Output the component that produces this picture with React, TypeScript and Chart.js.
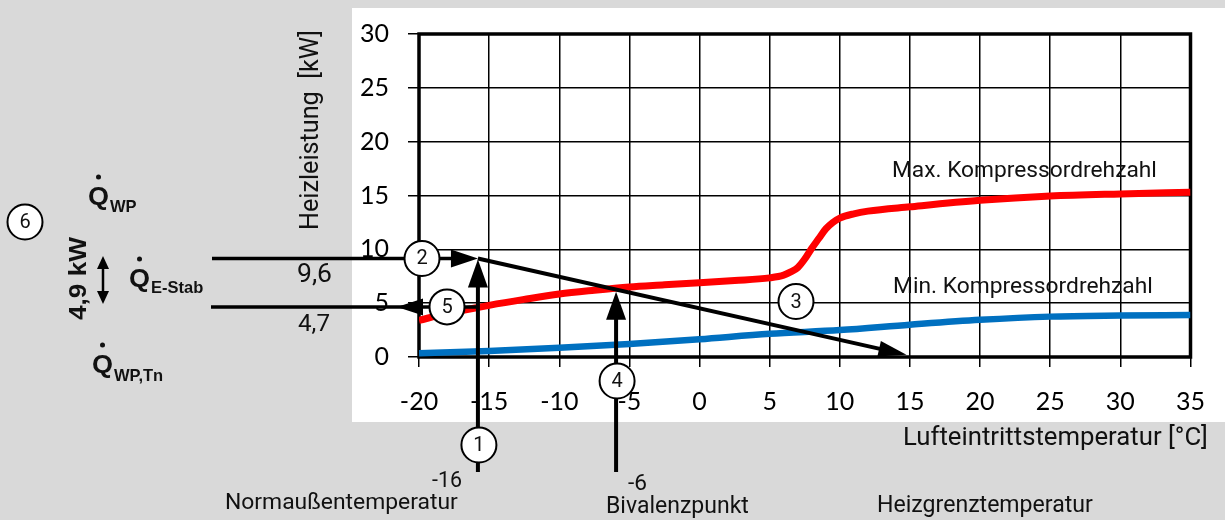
import React, { useEffect, useRef } from "react";
import { Chart, registerables } from "chart.js";

Chart.register(...registerables);

// ---- data ----
const maxTemps = [-20, -18, -16, -15, -12.5, -10, -7.5, -5, -2.5, 0, 2.5, 5, 6, 6.5, 7, 7.5, 8, 8.5, 9, 9.5, 10, 11, 12, 15, 20, 25, 30, 35];
const maxPower = [3.4, 4.05, 4.55, 4.8, 5.35, 5.85, 6.2, 6.5, 6.7, 6.9, 7.1, 7.35, 7.6, 7.9, 8.3, 9.1, 10.1, 11.0, 11.9, 12.5, 12.9, 13.3, 13.55, 13.95, 14.55, 14.95, 15.15, 15.3];
const minTemps = [-20, -15, -10, -5, 0, 5, 10, 15, 20, 25, 30, 35];
const minPower = [0.35, 0.55, 0.85, 1.2, 1.65, 2.15, 2.5, 3.0, 3.45, 3.75, 3.85, 3.9];

const xTicks = { min: -20, max: 35, step: 5 };
const yTicks = { min: 0, max: 30, step: 5 };

const xTitle = "Lufteintrittstemperatur [°C]";
const yTitle = "Heizleistung  [kW]";
const seriesLabels = ["Max. Kompressordrehzahl", "Min. Kompressordrehzahl"];

// annotation values (as drawn in the picture)
const normTempDrawn = -15.8;
const bivalentDrawn = -5.95;
const heatLimitDrawn = 14.75;
const levelHighDrawn = 9.15;
const levelLowDrawn = 4.65;
const bivalentPowerDrawn = 6.05;
const levelLabels = ["9,6", "4,7"];
const tempLabels = ["-16", "-6"];
const noteLabels = ["Normaußentemperatur", "Bivalenzpunkt", "Heizgrenztemperatur"];
const qSubs = ["WP", "E-Stab", "WP,Tn"];
const deltaLabel = "4,9 kW";

const ROBOTO = "Roboto, 'DejaVu Sans', sans-serif";
const ARIAL = "'Liberation Sans', Arial, sans-serif";

function fitSize(ctx: CanvasRenderingContext2D, text: string, target: number, family: string, weight: string) {
  ctx.font = `${weight} 20px ${family}`;
  const w = ctx.measureText(text).width;
  return (20 * target) / w;
}

function textAt(ctx: CanvasRenderingContext2D, text: string, left: number, baseline: number, width: number, family = ROBOTO, weight = "400") {
  const size = fitSize(ctx, text, width, family, weight);
  ctx.font = `${weight} ${size}px ${family}`;
  ctx.textAlign = "left";
  ctx.textBaseline = "alphabetic";
  ctx.fillStyle = "#111";
  ctx.fillText(text, left, baseline);
}

function arrow(ctx: CanvasRenderingContext2D, x1: number, y1: number, x2: number, y2: number, lw: number, hl: number, hw: number) {
  const dx = x2 - x1, dy = y2 - y1;
  const len = Math.hypot(dx, dy);
  const ux = dx / len, uy = dy / len;
  const bx = x2 - ux * hl, by = y2 - uy * hl;
  ctx.strokeStyle = "#000";
  ctx.fillStyle = "#000";
  ctx.lineWidth = lw;
  ctx.lineCap = "butt";
  ctx.beginPath();
  ctx.moveTo(x1, y1);
  ctx.lineTo(bx + ux * 2, by + uy * 2);
  ctx.stroke();
  ctx.beginPath();
  ctx.moveTo(x2, y2);
  ctx.lineTo(bx - uy * hw / 2, by + ux * hw / 2);
  ctx.lineTo(bx + uy * hw / 2, by - ux * hw / 2);
  ctx.closePath();
  ctx.fill();
}

function circleNum(ctx: CanvasRenderingContext2D, n: string, x: number, y: number) {
  ctx.beginPath();
  ctx.arc(x, y, 17.5, 0, Math.PI * 2);
  ctx.fillStyle = "#fff";
  ctx.fill();
  ctx.lineWidth = 2;
  ctx.strokeStyle = "#000";
  ctx.stroke();
  ctx.fillStyle = "#111";
  ctx.font = `400 20px ${ROBOTO}`;
  ctx.textAlign = "center";
  ctx.textBaseline = "middle";
  ctx.fillText(n, x, y + 1);
}

function qLabel(ctx: CanvasRenderingContext2D, sub: string, qLeft: number, baseline: number, subBaseline: number) {
  const sx = 1.08;
  ctx.save();
  ctx.fillStyle = "#111";
  ctx.textAlign = "left";
  ctx.textBaseline = "alphabetic";
  ctx.translate(qLeft, baseline);
  ctx.scale(sx, 1);
  ctx.font = `700 25px ${ARIAL}`;
  ctx.fillText("Q", 0, 0);
  const qw = ctx.measureText("Q").width * sx;
  ctx.restore();
  // dot above Q
  ctx.beginPath();
  ctx.arc(qLeft + qw / 2, baseline - 27.5, 2.5, 0, Math.PI * 2);
  ctx.fillStyle = "#111";
  ctx.fill();
  ctx.font = `700 16.5px ${ARIAL}`;
  ctx.textAlign = "left";
  ctx.textBaseline = "alphabetic";
  ctx.fillText(sub, qLeft + qw + 1, subBaseline);
}

const annotPlugin = {
  id: "annot",
  beforeDraw(chart: any) {
    const ctx = chart.ctx as CanvasRenderingContext2D;
    ctx.save();
    ctx.fillStyle = "#d9d9d9";
    ctx.fillRect(0, 0, chart.width, chart.height);
    ctx.fillStyle = "#ffffff";
    ctx.fillRect(352, 8, chart.width - 352, 414);
    ctx.restore();
  },
  beforeDatasetsDraw(chart: any) {
    const ctx = chart.ctx as CanvasRenderingContext2D;
    const a = chart.chartArea;
    ctx.save();
    ctx.strokeStyle = "#000";
    ctx.lineWidth = 3.5;
    ctx.strokeRect(a.left, a.top, a.right - a.left, a.bottom - a.top);
    ctx.restore();
  },
  afterDatasetsDraw(chart: any) {
    const ctx = chart.ctx as CanvasRenderingContext2D;
    const xs = chart.scales.x, ys = chart.scales.y;
    const px = (v: number) => xs.getPixelForValue(v);
    const py = (v: number) => ys.getPixelForValue(v);
    ctx.save();

    const nx = px(normTempDrawn);
    const bx = px(bivalentDrawn);
    const yHi = py(levelHighDrawn);
    const yLo = py(levelLowDrawn);

    // horizontal level lines from the left labels
    arrow(ctx, 212, yHi, nx, yHi, 3.5, 27, 18);
    ctx.lineWidth = 3.5;
    ctx.beginPath();
    ctx.moveTo(211, yLo);
    ctx.lineTo(nx, yLo);
    ctx.stroke();
    // arrow head pointing left on lower line
    ctx.beginPath();
    ctx.moveTo(397, yLo);
    ctx.lineTo(423, yLo - 8.5);
    ctx.lineTo(423, yLo + 8.5);
    ctx.closePath();
    ctx.fill();

    // diagonal to heat limit temperature
    arrow(ctx, nx, yHi, px(heatLimitDrawn), py(0.2), 4, 28, 16);
    // vertical arrows
    arrow(ctx, nx, 472, nx, yHi + 1, 4, 28, 20);
    arrow(ctx, bx, 472, bx, py(bivalentPowerDrawn), 4, 28, 20);

    // circles
    circleNum(ctx, "1", nx + 1, 445);
    circleNum(ctx, "2", 422, yHi);
    circleNum(ctx, "3", 796, 301.5);
    circleNum(ctx, "4", bx + 1, 381);
    circleNum(ctx, "5", 447, yLo);
    circleNum(ctx, "6", 25, 222);

    // series labels
    textAt(ctx, seriesLabels[0], 892, 177, 265);
    textAt(ctx, seriesLabels[1], 893, 293, 260);
    // axis titles
    textAt(ctx, xTitle, 903, 445, 305);
    ctx.save();
    ctx.translate(318, 230);
    ctx.rotate(-Math.PI / 2);
    textAt(ctx, yTitle, 0, 0, 200);
    ctx.restore();

    // bottom notes
    textAt(ctx, noteLabels[0], 225, 509, 233);
    textAt(ctx, noteLabels[1], 606, 513, 143);
    textAt(ctx, noteLabels[2], 877, 512, 216);
    textAt(ctx, tempLabels[0], 432, 487, 30);
    textAt(ctx, tempLabels[1], 628, 490, 19);
    textAt(ctx, levelLabels[0], 297, 282, 35);
    textAt(ctx, levelLabels[1], 298, 331, 32);

    // Q labels
    qLabel(ctx, qSubs[0], 88, 204.5, 211.5);
    qLabel(ctx, qSubs[1], 129, 286.5, 293.3);
    qLabel(ctx, qSubs[2], 92, 372.5, 380.5);

    // double arrow
    arrow(ctx, 103, 280, 103, 256, 2.5, 13, 12);
    arrow(ctx, 103, 280, 103, 304, 2.5, 13, 12);

    // 4,9 kW rotated
    ctx.save();
    ctx.translate(86, 320);
    ctx.rotate(-Math.PI / 2);
    ctx.font = `700 24px ${ARIAL}`;
    const w = ctx.measureText(deltaLabel).width;
    ctx.scale(83 / w, 1);
    ctx.fillStyle = "#111";
    ctx.textAlign = "left";
    ctx.textBaseline = "alphabetic";
    ctx.fillText(deltaLabel, 0, 0);
    ctx.restore();

    ctx.restore();
  },
};

export default function App() {
  const ref = useRef<HTMLCanvasElement | null>(null);
  useEffect(() => {
    if (!ref.current) return;
    const tickFont = { family: "Lato, 'Open Sans', sans-serif", size: 25 };
    const chart = new Chart(ref.current, {
      type: "line",
      data: {
        datasets: [
          {
            label: seriesLabels[0],
            data: maxTemps.map((t, i) => ({ x: t, y: maxPower[i] })),
            borderColor: "#ff0000",
            borderWidth: 7,
            pointRadius: 0,
            cubicInterpolationMode: "monotone",
            fill: false,
          },
          {
            label: seriesLabels[1],
            data: minTemps.map((t, i) => ({ x: t, y: minPower[i] })),
            borderColor: "#0070c0",
            borderWidth: 6.5,
            pointRadius: 0,
            cubicInterpolationMode: "monotone",
            fill: false,
          },
        ],
      },
      options: {
        responsive: false,
        animation: false,
        devicePixelRatio: 1,
        layout: { padding: { left: 0, top: 28, right: 32, bottom: 0 } },
        plugins: { legend: { display: false }, tooltip: { enabled: false }, title: { display: false } },
        scales: {
          x: {
            type: "linear",
            min: xTicks.min,
            max: xTicks.max,
            ticks: { stepSize: xTicks.step, font: tickFont, color: "#000", padding: 20, maxRotation: 0 },
            grid: { color: "#000", lineWidth: 1.5, tickLength: 10, drawTicks: true },
            border: { display: false },
            afterFit: (s: any) => { s.height = 163; },
          },
          y: {
            type: "linear",
            min: yTicks.min,
            max: yTicks.max,
            ticks: { stepSize: yTicks.step, font: tickFont, color: "#000", padding: 19 },
            grid: { color: "#000", lineWidth: 1.5, tickLength: 11, drawTicks: true },
            border: { display: false },
            afterFit: (s: any) => { s.width = 419; },
          },
        },
      },
      plugins: [annotPlugin],
    } as any);
    return () => chart.destroy();
  }, []);
  return (
    <div style={{ position: "fixed", left: 0, top: 0, width: 1225, height: 520 }}>
      <canvas ref={ref} width={1225} height={520} style={{ display: "block", width: 1225, height: 520 }} />
    </div>
  );
}
